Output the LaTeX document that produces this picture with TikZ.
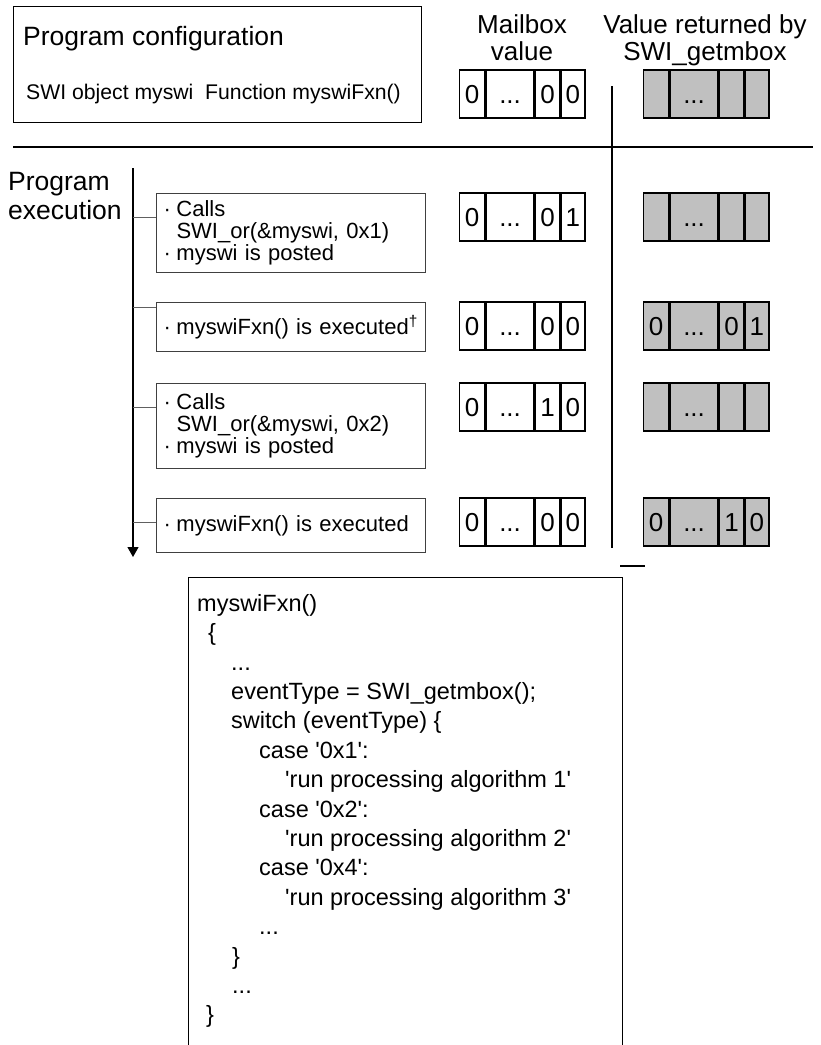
\documentclass[tikz,border=0pt]{standalone}
\usepackage{fontspec}
\setmainfont{Liberation Sans}
\usetikzlibrary{positioning,arrows.meta}

\definecolor{regfill}{HTML}{C0C0C0}
\definecolor{linkgray}{HTML}{606060}
\newcommand\sq{\textquotesingle}
\newcommand\bul{\makebox[13pt][l]{·}}

\tikzset{
  cfgbox/.style={draw, line width=1.4pt, inner sep=0pt, anchor=north west},
  bigtext/.style={inner sep=0pt, font=\fontsize{26.5}{29}\selectfont},
  boxtext/.style={inner sep=0pt, font=\fontsize{21.2}{22}\selectfont},
  heading/.style={inner sep=0pt, align=center, font=\fontsize{26}{27}\selectfont},
  evbox/.style={draw=black!75, line width=1pt, anchor=north west, align=left,
    text width=255pt, inner xsep=7pt, inner ysep=0pt,
    font=\fontsize{22}{22}\selectfont},
  cell/.style={draw, line width=1.4pt, minimum height=48pt, inner sep=0pt,
    text height=18.6pt, text depth=0pt,
    anchor=west, font=\fontsize{26}{26}\selectfont},
  sepline/.style={line width=1.4pt},
  divider/.style={line width=2pt},
  timeline/.style={line width=1.2pt, -{Triangle[width=11pt,length=10pt]}},
  branch/.style={draw=linkgray, line width=1pt},
  codebox/.style={draw, line width=1.4pt, inner sep=0pt, anchor=north west},
  codetext/.style={inner sep=0pt, align=left, anchor=north west,
    font=\fontsize{23.5}{29.4}\selectfont},
}

\begin{document}
\begin{tikzpicture}[x=1pt,y=-1pt]
  \useasboundingbox (0,0) rectangle (821,1045);

  % Configuration box
  \node[cfgbox, minimum width=408pt, minimum height=116pt] (cfg) at (13,6) {};
  \node[bigtext, anchor=base west] (cfgtitle) at (23,45) {Program configuration};
  \node[boxtext, anchor=base west] (cfgline) at (26,99) {SWI object myswi\ \ Function myswiFxn()};

  % Column headings
  \node[heading, anchor=north] (mbhead) at (522,14) {Mailbox\\value};
  \node[heading, anchor=north] (rethead) at (705,14) {Value returned by\\SWI\_getmbox};

  % Separators
  \draw[sepline] (13,147) -- (813,147);
  \draw[divider] (612,86) -- (612,548);
  \draw[sepline] (620,566) -- (645,566);

  % Time line
  \node[bigtext, align=left, anchor=north west] (exec) at (8,172) {Program\\execution};
  \coordinate (ttop) at (133,168);
  \coordinate (tend) at (133,557);
  \draw[timeline] (ttop) -- (tend);

  % Events
  \node[evbox, minimum height=79pt] (ev1) at (156,193)
    {\bul Calls\\\hspace*{13pt}SWI\_or(\&myswi, 0x1)\\\bul myswi is posted};
  \node[evbox, minimum height=49pt] (ev2) at (156,302)
    {\bul myswiFxn() is executed\textsuperscript{\textdagger}};
  \node[evbox, minimum height=85pt] (ev3) at (156,383)
    {\bul Calls\\\hspace*{13pt}SWI\_or(\&myswi, 0x2)\\\bul myswi is posted};
  \node[evbox, minimum height=54pt] (ev4) at (156,498)
    {\bul myswiFxn() is executed};

  % Branches from the time line
  \foreach \e/\yy in {1/217,2/307,3/407,4/522} {
    \coordinate (b\e) at (133,\yy);
    \draw[branch] (b\e) -- (b\e -| ev\e.west);
  }

  % Mailbox value and value returned by SWI_getmbox
  \foreach \n/\yy/\p/\q/\gf/\gp/\gq in {0/94/0/0/{}/{}/{}, 1/217/0/1/{}/{}/{},
      2/326/0/0/0/0/1, 3/407/1/0/{}/{}/{}, 4/522/0/0/0/1/0} {
    \node[cell, minimum width=25pt] (mb\n-1) at (459,\yy) {0};
    \node[cell, minimum width=48pt] (mb\n-2) at (mb\n-1.east) {...};
    \node[cell, minimum width=24pt] (mb\n-3) at (mb\n-2.east) {\p};
    \node[cell, minimum width=24pt] (mb\n-4) at (mb\n-3.east) {\q};
    \node[cell, fill=regfill, minimum width=25pt] (rv\n-1) at (643,\yy) {\gf};
    \node[cell, fill=regfill, minimum width=48pt] (rv\n-2) at (rv\n-1.east) {...};
    \node[cell, fill=regfill, minimum width=24pt] (rv\n-3) at (rv\n-2.east) {\gp};
    \node[cell, fill=regfill, minimum width=24pt] (rv\n-4) at (rv\n-3.east) {\gq};
  }

  % Code of myswiFxn
  \node[codebox, minimum width=434pt, minimum height=472pt] (code) at (188,577) {};
  \node[codetext] (codelines) at (197,594) {%
    myswiFxn()\\
    \hspace*{11pt}\{\\
    \hspace*{34pt}...\\
    \hspace*{34pt}eventType = SWI\_getmbox();\\
    \hspace*{34pt}switch (eventType) \{\\
    \hspace*{62pt}case \sq0x1\sq:\\
    \hspace*{88pt}\sq run processing algorithm 1\sq\\
    \hspace*{62pt}case \sq0x2\sq:\\
    \hspace*{88pt}\sq run processing algorithm 2\sq\\
    \hspace*{62pt}case \sq0x4\sq:\\
    \hspace*{88pt}\sq run processing algorithm 3\sq\\
    \hspace*{62pt}...\\
    \hspace*{35pt}\}\\
    \hspace*{35pt}...\\
    \hspace*{9pt}\}};
\end{tikzpicture}
\end{document}
